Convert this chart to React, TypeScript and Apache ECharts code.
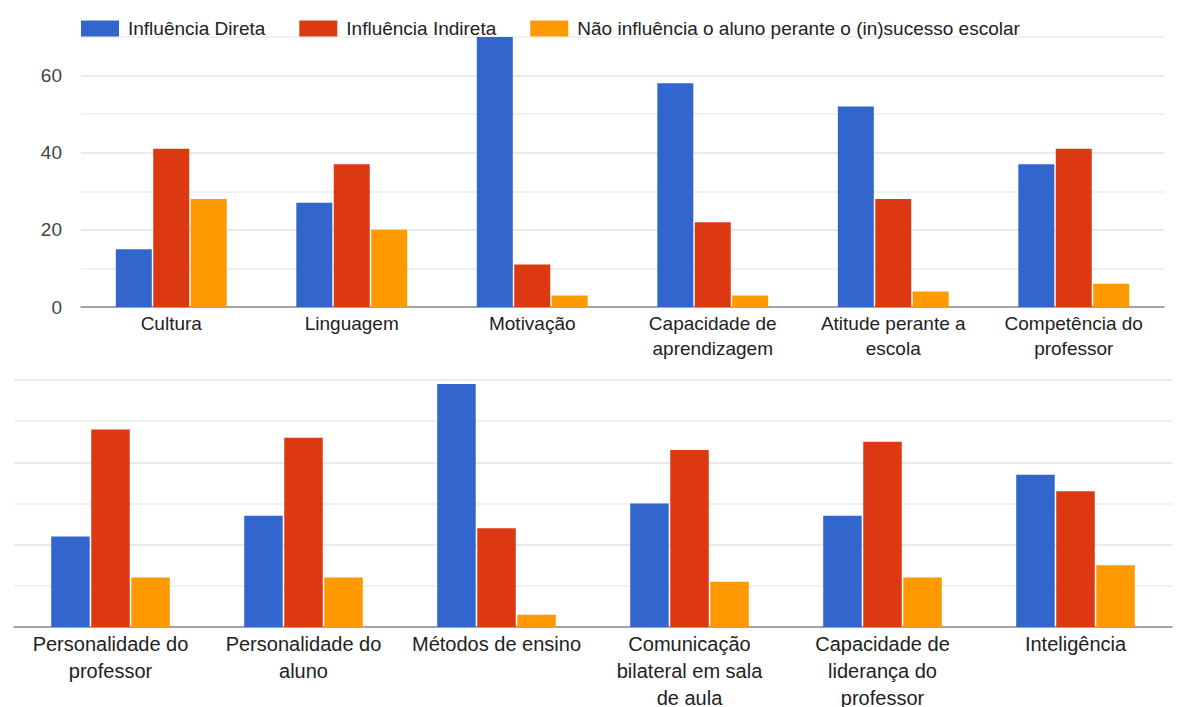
import React, { useEffect, useRef } from "react";
import * as echarts from "echarts";

const seriesNames = [
  "Influência Direta",
  "Influência Indireta",
  "Não influência o aluno perante o (in)sucesso escolar",
];
const colors = ["#3366cc", "#dc3912", "#ff9900"];

const topCategories = [
  "Cultura",
  "Linguagem",
  "Motivação",
  "Capacidade de\naprendizagem",
  "Atitude perante a\nescola",
  "Competência do\nprofessor",
];
const topDireta = [15, 27, 70, 58, 52, 37];
const topIndireta = [41, 37, 11, 22, 28, 41];
const topNao = [28, 20, 3, 3, 4, 6];

const bottomCategories = [
  "Personalidade do\nprofessor",
  "Personalidade do\naluno",
  "Métodos de ensino",
  "Comunicação\nbilateral em sala\nde aula",
  "Capacidade de\nliderança do\nprofessor",
  "Inteligência",
];
const bottomDireta = [22, 27, 59, 30, 27, 37];
const bottomIndireta = [48, 46, 24, 43, 45, 33];
const bottomNao = [12, 12, 3, 11, 12, 15];

const topTicks = [0, 20, 40, 60];

const FONT = "'Liberation Sans', Arial, sans-serif";

export default function App() {
  const ref = useRef<HTMLDivElement>(null);
  useEffect(() => {
    if (!ref.current) return;
    const chart = echarts.init(ref.current, undefined, { renderer: "svg" });
    const xAxisCommon = {
      type: "category" as const,
      axisTick: { show: false },
      axisLine: { lineStyle: { color: "#8c8c8c", width: 1.5 } },
    };
    const yAxisCommon = {
      type: "value" as const,
      min: 0,
      interval: 10,
      axisLine: { show: false },
      axisTick: { show: false },
      splitLine: { lineStyle: { color: ["#e3e3e3", "#ececec"], width: 1.5 } },
    };
    const mkSeries = (data: number[], i: number, axis: number, bw: number) => ({
      name: seriesNames[i],
      type: "bar" as const,
      xAxisIndex: axis,
      yAxisIndex: axis,
      data,
      barWidth: bw,
      barGap: "4%",
      itemStyle: { color: colors[i] },
    });
    chart.setOption({
      animation: false,
      backgroundColor: "#fff",
      textStyle: { fontFamily: FONT },
      legend: {
        left: 81,
        top: 19,
        padding: 0,
        itemWidth: 38,
        itemHeight: 16,
        itemGap: 34,
        icon: "rect",
        data: seriesNames,
        textStyle: {
          color: "#222",
          fontSize: 19,
          fontFamily: FONT,
          padding: [0, 0, 0, 4],
        },
      },
      grid: [
        { left: 81, width: 1083, top: 37, height: 270, outerBoundsMode: "none" },
        { left: 14, width: 1158, top: 380, height: 247, outerBoundsMode: "none" },
      ],
      xAxis: [
        {
          ...xAxisCommon,
          gridIndex: 0,
          data: topCategories,
          axisLabel: {
            color: "#222",
            fontSize: 19,
            lineHeight: 25,
            fontFamily: FONT,
            margin: 4,
            interval: 0,
          },
        },
        {
          ...xAxisCommon,
          gridIndex: 1,
          data: bottomCategories,
          axisLabel: {
            color: "#222",
            fontSize: 20,
            lineHeight: 27,
            fontFamily: FONT,
            margin: 3,
            interval: 0,
          },
        },
      ],
      yAxis: [
        {
          ...yAxisCommon,
          gridIndex: 0,
          max: 70,
          axisLabel: {
            color: "#444",
            fontSize: 19,
            fontFamily: FONT,
            margin: 19,
            formatter: (v: number) => (topTicks.includes(v) ? String(v) : ""),
          },
        },
        {
          ...yAxisCommon,
          gridIndex: 1,
          max: 60,
          axisLabel: { show: false },
        },
      ],
      series: [
        mkSeries(topDireta, 0, 0, 36),
        mkSeries(topIndireta, 1, 0, 36),
        mkSeries(topNao, 2, 0, 36),
        mkSeries(bottomDireta, 0, 1, 38.5),
        mkSeries(bottomIndireta, 1, 1, 38.5),
        mkSeries(bottomNao, 2, 1, 38.5),
      ],
    });
    return () => chart.dispose();
  }, []);
  return (
    <div
      ref={ref}
      style={{ position: "fixed", left: 0, top: 0, width: 1180, height: 707 }}
    />
  );
}
